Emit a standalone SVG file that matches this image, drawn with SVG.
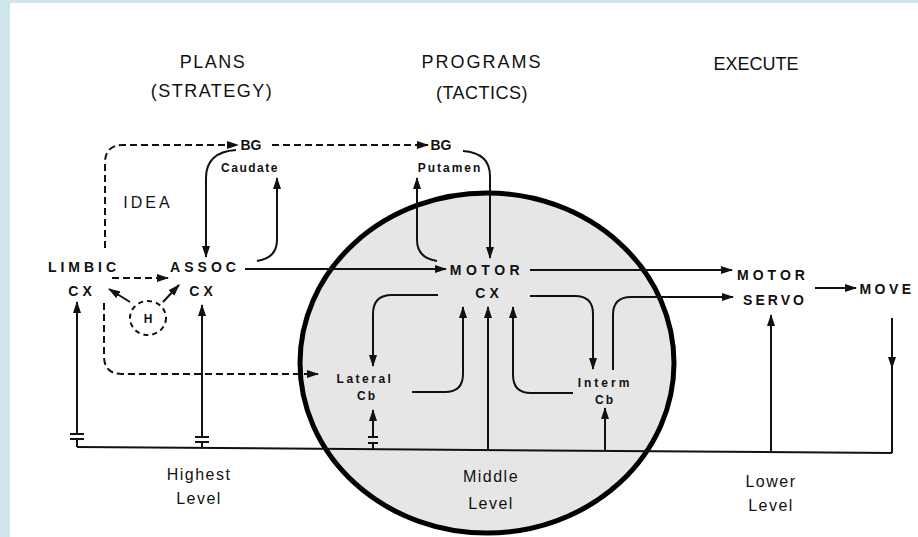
<svg xmlns="http://www.w3.org/2000/svg" width="918" height="537" viewBox="0 0 918 537">
<defs>
<marker id="ah" markerUnits="userSpaceOnUse" markerWidth="12" markerHeight="8" refX="11" refY="4" orient="auto">
<path d="M0,0 L12,4 L0,8 Z" fill="#111"/>
</marker>
<style>
.ln{fill:none;stroke:#111;stroke-width:2}
.ds{fill:none;stroke:#111;stroke-width:2;stroke-dasharray:7 4}
.hd{font-family:"Liberation Sans",Arial,sans-serif;font-size:18px;fill:#111;text-anchor:middle}
.lb{font-family:"Liberation Sans",Arial,sans-serif;font-size:14px;font-weight:bold;fill:#111;text-anchor:middle}
.sm{font-family:"Liberation Sans",Arial,sans-serif;font-size:12px;font-weight:bold;fill:#111;text-anchor:middle}
.lv{font-family:"Liberation Sans",Arial,sans-serif;font-size:16px;fill:#111;text-anchor:middle}
</style>
</defs>
<rect x="0" y="0" width="918" height="537" fill="#ffffff"/>
<rect x="0" y="0" width="918" height="3" fill="#cfe6ec"/>
<rect x="0" y="0" width="10" height="537" fill="#cfe6ec"/>

<g id="middle-circle">
<ellipse cx="487" cy="363" rx="187" ry="170" fill="#e6e6e6" stroke="#000" stroke-width="5"/>
</g>

<g id="headers">
<text class="hd" x="213" y="68" letter-spacing="1.5">PLANS</text>
<text class="hd" x="212" y="97" letter-spacing="1.5">(STRATEGY)</text>
<text class="hd" x="482" y="68" letter-spacing="2">PROGRAMS</text>
<text class="hd" x="482" y="99" letter-spacing="0.5">(TACTICS)</text>
<text class="hd" x="756" y="70">EXECUTE</text>
</g>

<g id="connectors">
<path class="ds" d="M105,248 V163 Q105,145 123,145 H238" marker-end="url(#ah)"/>
<path class="ds" d="M272,145 H428" marker-end="url(#ah)"/>
<path class="ln" d="M236,150 Q206,152 206,178 V257" marker-end="url(#ah)"/>
<path class="ln" d="M257,261 Q277,258 277,240 V178" marker-end="url(#ah)"/>
<path class="ln" d="M463,151 Q490,153 490,176 V258" marker-end="url(#ah)"/>
<path class="ln" d="M437,261 Q417,258 417,240 V178" marker-end="url(#ah)"/>
<path class="ln" d="M245,269 H446" marker-end="url(#ah)"/>
<path class="ln" d="M530,270 H732" marker-end="url(#ah)"/>
<path class="ln" d="M438,295 H392 Q373,295 373,314 V366" marker-end="url(#ah)"/>
<path class="ln" d="M412,392 H445 Q463,392 463,374 V307" marker-end="url(#ah)"/>
<path class="ln" d="M488,450 V307" marker-end="url(#ah)"/>
<path class="ln" d="M573,393 H531 Q513,393 513,375 V307" marker-end="url(#ah)"/>
<path class="ln" d="M530,296 H575 Q593,296 593,314 V369" marker-end="url(#ah)"/>
<path class="ln" d="M613,370 V315 Q613,297 631,297 H733" marker-end="url(#ah)"/>
<path class="ln" d="M815,288 H856" marker-end="url(#ah)"/>
<path class="ln" d="M892,318 V368" marker-end="url(#ah)"/>
<path class="ln" d="M892,365 V453"/>
<path class="ln" d="M77,447 L892,453"/>
<path class="ln" d="M771,452 V315" marker-end="url(#ah)"/>
<path class="ln" d="M605,451 V408" marker-end="url(#ah)"/>
<path class="ln" d="M373,437 V410" marker-end="url(#ah)"/>
<path class="ln" d="M368,437 H378 M368,443 H378 M373,443 V449"/>
<path class="ln" d="M202,437 V305" marker-end="url(#ah)"/>
<path class="ln" d="M195,437 H209 M195,442 H209 M202,442 V448"/>
<path class="ln" d="M77,434 V302" marker-end="url(#ah)"/>
<path class="ln" d="M70,434 H84 M70,439 H84 M77,439 V447"/>
<path class="ds" d="M104,303 V356 Q104,374 122,374 H318" marker-end="url(#ah)"/>
<path class="ds" d="M112,278 H168" marker-end="url(#ah)"/>
<path class="ln" d="M130,302 L109,289" marker-end="url(#ah)"/>
<path class="ln" d="M163,302 L179,285" marker-end="url(#ah)"/>
</g>

<g id="limbic-cx">
<text class="lb" x="84" y="272" letter-spacing="4">LIMBIC</text>
<text class="lb" x="82" y="296" letter-spacing="4">CX</text>
</g>
<g id="assoc-cx">
<text class="lb" x="205" y="272" letter-spacing="4">ASSOC</text>
<text class="lb" x="203" y="296" letter-spacing="4">CX</text>
</g>
<g id="idea">
<text class="lv" x="148" y="208" font-size="18" letter-spacing="3">IDEA</text>
</g>
<g id="h-node">
<ellipse cx="148" cy="318" rx="18" ry="17" fill="none" stroke="#111" stroke-width="2" stroke-dasharray="5 4"/>
<text class="sm" x="148" y="323">H</text>
</g>
<g id="bg-caudate">
<text class="lb" x="251" y="150" font-size="13">BG</text>
<text class="sm" x="250" y="172" letter-spacing="1.5">Caudate</text>
</g>
<g id="bg-putamen">
<text class="lb" x="441" y="150" font-size="13">BG</text>
<text class="sm" x="450" y="172" letter-spacing="2">Putamen</text>
</g>
<g id="motor-cx">
<text class="lb" x="487" y="275" letter-spacing="4.5">MOTOR</text>
<text class="lb" x="489" y="298" letter-spacing="4">CX</text>
</g>
<g id="lateral-cb">
<text class="sm" x="365" y="383" font-size="13" letter-spacing="2.5">Lateral</text>
<text class="sm" x="367" y="400" font-size="13" letter-spacing="2">Cb</text>
</g>
<g id="interm-cb">
<text class="sm" x="605" y="387" font-size="13" letter-spacing="3">Interm</text>
<text class="sm" x="605" y="404" font-size="13" letter-spacing="2">Cb</text>
</g>
<g id="motor-servo">
<text class="lb" x="773" y="280" letter-spacing="4">MOTOR</text>
<text class="lb" x="775" y="305" letter-spacing="3">SERVO</text>
</g>
<g id="move">
<text class="lb" x="887" y="294" letter-spacing="3.5">MOVE</text>
</g>
<g id="levels">
<text class="lv" x="199" y="480" letter-spacing="1.5">Highest</text>
<text class="lv" x="199" y="504" letter-spacing="1.5">Level</text>
<text class="lv" x="491" y="482" letter-spacing="1.5">Middle</text>
<text class="lv" x="491" y="509" letter-spacing="1.5">Level</text>
<text class="lv" x="771" y="487" letter-spacing="1.5">Lower</text>
<text class="lv" x="771" y="511" letter-spacing="1.5">Level</text>
</g>
</svg>
